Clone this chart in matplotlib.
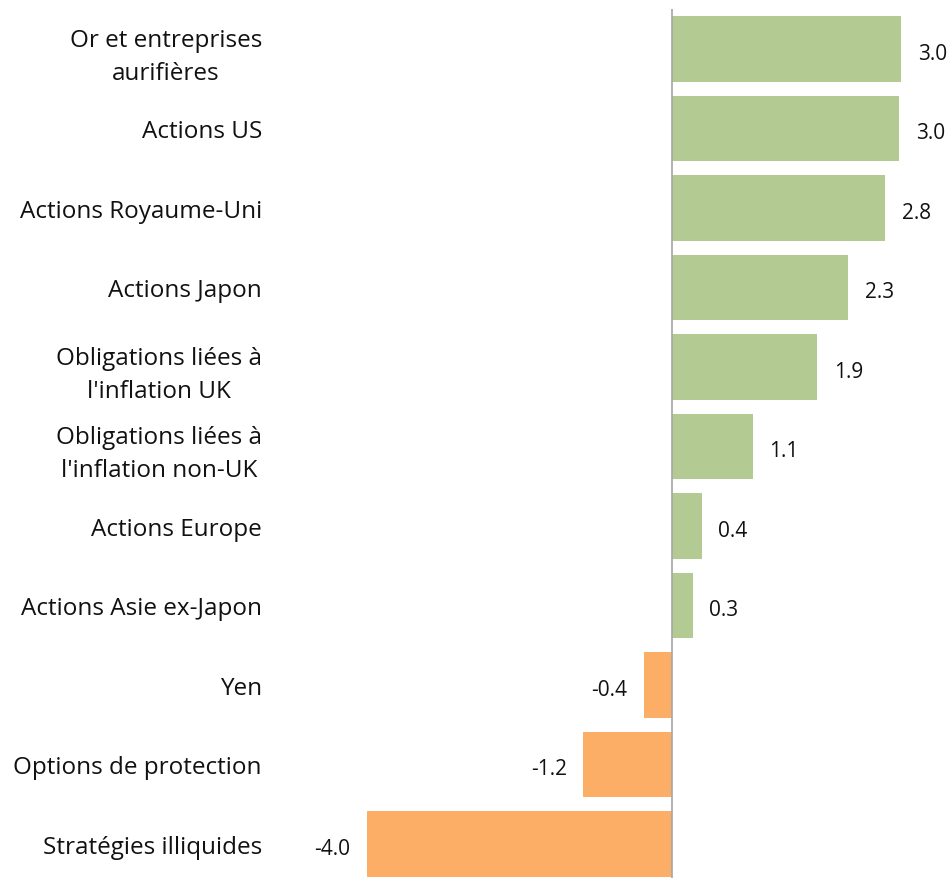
import matplotlib
matplotlib.use("Agg")
import matplotlib.pyplot as plt

# --- Data ---
categories = [
    "Or et entreprises\naurifières",
    "Actions US",
    "Actions Royaume-Uni",
    "Actions Japon",
    "Obligations liées à\nl'inflation UK",
    "Obligations liées à\nl'inflation non-UK",
    "Actions Europe",
    "Actions Asie ex-Japon",
    "Yen",
    "Options de protection",
    "Stratégies illiquides",
]
values = [3.0, 2.98, 2.79, 2.31, 1.9, 1.06, 0.39, 0.27, -0.37, -1.16, -4.0]

green = "#B3CB92"
orange = "#FDAE66"

plt.rcParams["font.family"] = ["Open Sans", "DejaVu Sans"]

fig = plt.figure(figsize=(9.5, 8.79), dpi=100)
W, H = 950, 879
ax_left, ax_right = 280, 950
ax_top, ax_bottom = 10.25, 884.75
ax = fig.add_axes([ax_left / W, 1 - ax_bottom / H,
                   (ax_right - ax_left) / W, (ax_bottom - ax_top) / H])

pos = list(range(len(values)))
colors = [green if v >= 0 else orange for v in values]
ax.barh(pos, values, height=0.83, color=colors, zorder=2)

ax.set_ylim(len(values) - 0.5, -0.5)
px_per_unit = 76.3
ax.set_xlim(-(672 - ax_left) / px_per_unit, (ax_right - 672) / px_per_unit)

ax.axvline(0, color="#A6A6A6", lw=1.2, zorder=3)

for p, v in zip(pos, values):
    off = 12 if v >= 0 else -12
    ax.annotate(f"{v:.1f}", xy=(v, p), xytext=(off, -3), textcoords="offset points",
                ha="left" if v >= 0 else "right", va="center",
                fontsize=15, color="#111111", annotation_clip=False)

ax.set_yticks(pos)
ax.set_yticklabels(categories, fontsize=17.5, color="#111111")
for lbl in ax.get_yticklabels():
    lbl.set_multialignment("center")
    lbl.set_linespacing(1.5)
ax.tick_params(axis="y", length=0, pad=13)
ax.set_xticks([])
for s in ax.spines.values():
    s.set_visible(False)

fig.savefig("out.png", dpi=100)
